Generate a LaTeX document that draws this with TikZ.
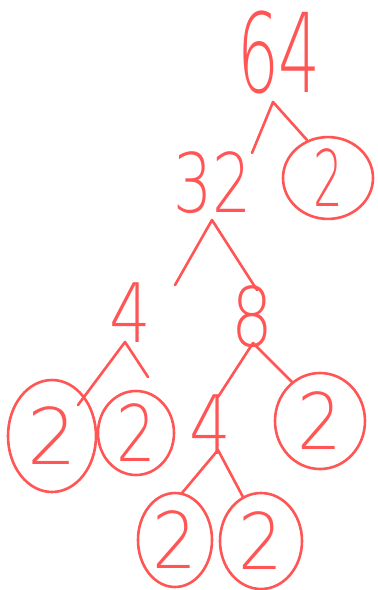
\documentclass[tikz,border=0pt]{standalone}
\usepackage{fontspec}
\usetikzlibrary{shapes.geometric}
\newfontfamily\handfont{DejaVuSans-ExtraLight.ttf}
\definecolor{redink}{RGB}{255,85,85}
\begin{document}
\begin{tikzpicture}[x=1pt,y=-1pt,
  ink/.style={draw=redink, line width=2.6pt, line cap=round, line join=round},
  num/.style={text=redink, inner sep=0pt, font=\handfont\fontsize{82}{82}\selectfont},
  big/.style={text=redink, inner sep=0pt, font=\handfont\fontsize{110}{110}\selectfont},
  leaf/.style={ellipse, draw=redink, line width=2.6pt, text=redink, inner sep=0pt,
    font=\handfont\fontsize{78}{78}\selectfont}]
\useasboundingbox (0,0) rectangle (378,590);
% numbers
\node[big] (n64) at (279,52) {\scalebox{0.6}[1]{64}};
\node[num] (n32) at (213,183) {\scalebox{0.75}[1]{32}};
\node[num] (n4a) at (130,313) {\scalebox{0.8}[1]{4}};
\node[num] (n8)  at (252,317) {\scalebox{0.8}[1]{8}};
\node[num] (n4b) at (210,425) {\scalebox{0.8}[1]{4}};
% circled leaves
\node[leaf, minimum width=90pt, minimum height=80pt]  (l1) at (328,178) {\scalebox{0.6}[1]{2}};
\node[leaf, minimum width=88pt, minimum height=112pt] (l2) at (52,436)  {\scalebox{1.0}[1]{2}};
\node[leaf, minimum width=76pt, minimum height=84pt]  (l3) at (136,433) {\scalebox{0.8}[1]{2}};
\node[leaf, minimum width=90pt, minimum height=96pt]  (l4) at (320,421) {\scalebox{0.9}[1]{2}};
\node[leaf, minimum width=74pt, minimum height=94pt]  (l5) at (175,540) {\scalebox{0.9}[1]{2}};
\node[leaf, minimum width=82pt, minimum height=96pt]  (l6) at (261,541) {\scalebox{0.9}[1]{2}};
% branch points and stroke ends
\coordinate (a64) at (273,102);
\coordinate (e64l) at (252,153);
\coordinate (e64r) at (307,140);
\coordinate (a32) at (212,220);
\coordinate (e32l) at (175,285);
\coordinate (e32r) at (257,290);
\coordinate (a4a) at (125,342);
\coordinate (e4al) at (78,405);
\coordinate (e4ar) at (148,377);
\coordinate (a8) at (253,343);
\coordinate (e8l) at (218,397);
\coordinate (e8r) at (292,382);
\coordinate (a4b) at (218,450);
\coordinate (e4bl) at (182,493);
\coordinate (e4br) at (243,497);
% branches
\draw[ink] (e64l) -- (a64) -- (e64r);
\draw[ink] (e32l) -- (a32) -- (e32r);
\draw[ink] (e4al) -- (a4a) -- (e4ar);
\draw[ink] (e8l) -- (a8) -- (e8r);
\draw[ink] (e4bl) -- (a4b) -- (e4br);
\end{tikzpicture}
\end{document}
